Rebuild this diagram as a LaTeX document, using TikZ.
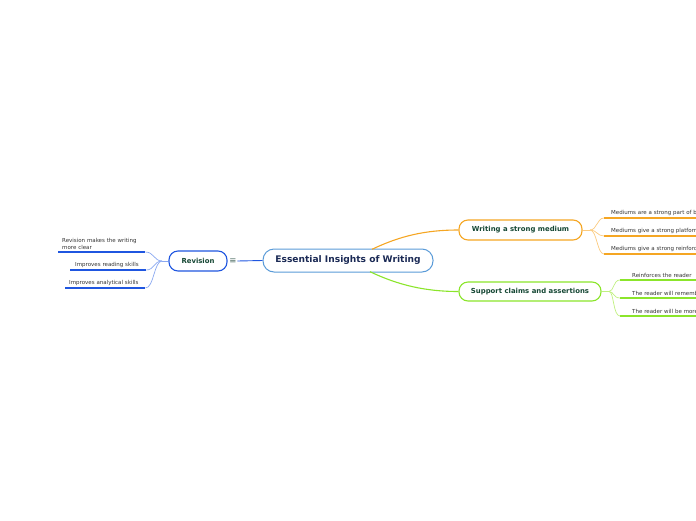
\documentclass[tikz,border=0pt]{standalone}
\usepackage{fontspec}
\setmainfont{DejaVu Sans}
\definecolor{cBorder}{HTML}{5A9BD8}
\definecolor{cNavy}{HTML}{1B2A55}
\definecolor{cDark}{HTML}{154734}
\definecolor{cLeaf}{HTML}{333333}
\definecolor{cOrange}{HTML}{F5A623}
\definecolor{cOrangeL}{HTML}{FBCB80}
\definecolor{cGreen}{HTML}{8BE52B}
\definecolor{cGreenL}{HTML}{C0F080}
\definecolor{cBlue}{HTML}{1F56E0}
\definecolor{cBlueL}{HTML}{8AA8F0}
\definecolor{cIcon}{HTML}{4A6A60}
\tikzset{
  centralbox/.style={draw=cBorder, line width=1pt, rounded corners=11pt, fill=white,
    text=cNavy, font=\fontsize{9.1}{10}\selectfont\bfseries, minimum width=170pt, minimum height=23pt, inner sep=0pt},
  branchbox/.style={draw=#1, line width=1.1pt, rounded corners=9pt, fill=white,
    text=cDark, font=\fontsize{6.9}{8}\selectfont\bfseries, minimum height=20pt, inner sep=0pt},
  leaf/.style={anchor=south west, text=cLeaf, font=\fontsize{5.5}{7}\selectfont,
    align=left, inner xsep=4pt, inner ysep=2.5pt},
  uline/.style={draw=#1, line width=1.8pt},
  mainconn/.style={draw=#1, line width=1.1pt},
  leafconn/.style={draw=#1, line width=0.7pt},
}
\begin{document}
\begin{tikzpicture}[x=1pt,y=-1pt]
\useasboundingbox (0,0) rectangle (696,520);
\clip (0,0) rectangle (696,520);
% central and branches
\node[centralbox] (c) at (348,260.5) {Essential Insights of Writing};
\node[branchbox=cBlue, minimum width=58pt] (rev) at (198,261) {Revision};
\node[text=cIcon, font=\fontsize{8.5}{9}\selectfont, inner sep=0.5pt] (ic) at (233,261) {≡};
\node[branchbox=cOrange, minimum width=123pt] (wr) at (520.5,230) {Writing a strong medium};
\node[branchbox=cGreen, minimum width=142pt, minimum height=19pt] (sp) at (530,291.5) {Support claims and assertions};
% main connectors
\draw[mainconn=cBlue, line width=0.9pt] (c.west) -- (ic.east);
\draw[mainconn=cOrange] (372,249.3) .. controls (400,236) and (425,230) .. (wr.west);
\draw[mainconn=cGreen] (370,271.7) .. controls (398,285) and (425,291.5) .. (sp.west);
% Revision leaves
\node[leaf, text width=79pt] (r1) at (58,252) {Revision makes the writing\\more clear};
\node[leaf, text width=66pt, inner xsep=5pt] (r2) at (70,270) {Improves reading skills};
\node[leaf, text width=72pt] (r3) at (65,288) {Improves analytical skills};
\foreach \n in {r1,r2,r3}{
  \draw[uline=cBlue] (\n.south west) -- (\n.south east);
}
\coordinate (rj) at (162,261);
\draw[leafconn=cBlueL] (rev.west) -- (rj);
\draw[leafconn=cBlueL] (rj) .. controls (154,261) and (154,252) .. (r1.south east);
\draw[leafconn=cBlueL] (rj) .. controls (154,261) and (154,270) .. (r2.south east);
\draw[leafconn=cBlueL] (rj) .. controls (154,261) and (154,288) .. (r3.south east);
% Writing leaves
\node[leaf, text width=110pt, inner xsep=7pt] (w1) at (604,218) {Mediums are a strong part of b};
\node[leaf, text width=110pt, inner xsep=7pt] (w2) at (604,236) {Mediums give a strong platform};
\node[leaf, text width=110pt, inner xsep=7pt] (w3) at (604,254) {Mediums give a strong reinforc};
\foreach \n in {w1,w2,w3}{
  \draw[uline=cOrange] (\n.south west) -- (\n.south east);
}
\coordinate (wj) at (590,230);
\draw[leafconn=cOrangeL] (wr.east) -- (wj);
\draw[leafconn=cOrangeL] (wj) .. controls (597,230) and (597,218) .. (w1.south west);
\draw[leafconn=cOrangeL] (wj) .. controls (597,230) and (597,236) .. (w2.south west);
\draw[leafconn=cOrangeL] (wj) .. controls (597,230) and (597,254) .. (w3.south west);
% Support leaves
\node[leaf, text width=110pt, inner xsep=12pt] (s1) at (620,280) {Reinforces the reader};
\node[leaf, text width=110pt, inner xsep=12pt] (s2) at (620,298) {The reader will rememb};
\node[leaf, text width=110pt, inner xsep=12pt] (s3) at (620,316) {The reader will be more};
\foreach \n in {s1,s2,s3}{
  \draw[uline=cGreen] (\n.south west) -- (\n.south east);
}
\coordinate (sj) at (609,291.5);
\draw[leafconn=cGreenL] (sp.east) -- (sj);
\draw[leafconn=cGreenL] (sj) .. controls (614,291.5) and (613,280) .. (s1.south west);
\draw[leafconn=cGreenL] (sj) .. controls (614,291.5) and (613,298) .. (s2.south west);
\draw[leafconn=cGreenL] (sj) .. controls (614,291.5) and (613,316) .. (s3.south west);
\end{tikzpicture}
\end{document}
